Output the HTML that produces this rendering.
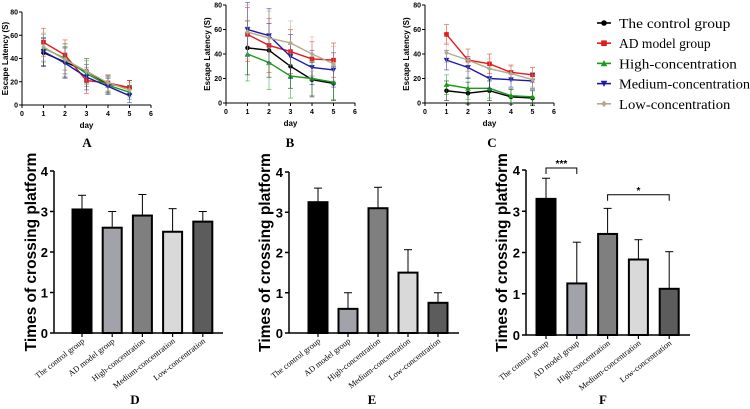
<!DOCTYPE html>
<html><head><meta charset="utf-8"><style>
body{margin:0;background:#fff;}
svg{display:block;font-family:"Liberation Sans",Arial,sans-serif;}
</style></head><body>
<svg id="fig" width="750" height="409" viewBox="0 0 750 409"></svg>
<script>
const days=[1,2,3,4,5];
const groups=["The control group","AD model group","High-concentration","Medium-concentration","Low-concentration"];
const aControl=[45,37,29,18,15], aAD=[54,43,21,19,15], aHigh=[49,40,27,17,11], aMed=[46,36,24,16,8], aLow=[50,39,29,19,13];
const aErr=[12,13,11,7,6];
const bControl=[45,43,30,19,16], bAD=[56,47,42,36,35], bHigh=[40,33,22,20,17], bMed=[60,55,38,29,27], bLow=[58,53,49,40,32];
const bErr=[22,22,18,14,14];
const cControl=[10,8,10,5,4], cAD=[56,35,32,25,23], cHigh=[15,12,12,6,5], cMed=[35,29,20,19,18], cLow=[41,35,28,24,19];
const cErr=[8,9,8,6,6];
const yTicksLine=[0,20,40,60,80], xTicksLine=[0,1,2,3,4,5,6];
const dVals=[3.05,2.6,2.9,2.5,2.75], dErr=[0.35,0.4,0.52,0.57,0.25];
const eVals=[3.25,0.6,3.1,1.5,0.75], eErr=[0.35,0.4,0.52,0.57,0.25];
const fVals=[3.3,1.25,2.45,1.83,1.12], fErr=[0.5,1.0,0.62,0.48,0.9];
const yTicksBar=[0,1,2,3,4];
const colors=["#000","#e8191b","#1a9a1a","#1a1aaa","#b3aa8c"];
const markers=["circle","square","up","down","diamond"];
const barFills=["#000","#a2a2aa","#7f7f7f","#d9d9d9","#5c5c5c"];
const NS="http://www.w3.org/2000/svg";
const svg=document.getElementById('fig');
function el(tag,attrs,parent,text){const e=document.createElementNS(NS,tag);for(const k in attrs)e.setAttribute(k,attrs[k]);if(text!==undefined)e.textContent=text;(parent||svg).appendChild(e);return e;}
function marker(g,type,x,y,c,s){
  let m;
  if(type==="circle")m=el('circle',{cx:x,cy:y,r:s},g);
  else if(type==="square")m=el('rect',{x:x-s,y:y-s,width:2*s,height:2*s},g);
  else if(type==="up")m=el('polygon',{points:`${x},${y-s-0.5} ${x-s-0.5},${y+s} ${x+s+0.5},${y+s}`},g);
  else if(type==="down")m=el('polygon',{points:`${x},${y+s+0.5} ${x-s-0.5},${y-s} ${x+s+0.5},${y-s}`},g);
  else m=el('polygon',{points:`${x},${y-s-0.5} ${x+s},${y} ${x},${y+s+0.5} ${x-s},${y}`},g);
  m.setAttribute('fill',c);
  return m;
}
function linePanel(name,ax,y0,y80,series,err,titleX,label,labelX){
  const g=el('g',{},svg);
  
  
  const sx=d=>ax+d*21.5;
  const sy=v=>y0-(v/80)*(y0-y80);
  el('line',{x1:ax,y1:y80,x2:ax,y2:y0,stroke:'#000','stroke-width':1},g);
  el('line',{x1:ax,y1:y0,x2:sx(6),y2:y0,stroke:'#000','stroke-width':1},g);
  yTicksLine.forEach(t=>{el('line',{x1:ax-3,y1:sy(t),x2:ax,y2:sy(t),stroke:'#000'},g);
    const tl=el('text',{x:ax-4,y:sy(t)+2.5,'font-size':7,'font-weight':'bold','text-anchor':'end'},g,t);
    });
  xTicksLine.forEach(t=>{el('line',{x1:sx(t),y1:y0,x2:sx(t),y2:y0+3,stroke:'#000'},g);
    const tl=el('text',{x:sx(t),y:y0+11,'font-size':7,'font-weight':'bold','text-anchor':'middle'},g,t);
    });
  const xt=el('text',{x:sx(3),y:y0+23,'font-size':8,'font-weight':'bold','text-anchor':'middle'},g,'day');
  
  const ymid=(y0+y80)/2;
  const yt=el('text',{x:titleX,y:ymid,'font-size':8,'font-weight':'bold','text-anchor':'middle',transform:`rotate(-90 ${titleX} ${ymid})`},g,'Escape Latency (S)');
  
  series.forEach((vals,i)=>{
    const sg=el('g',{},g);
    
    
    vals.forEach((v,j)=>{const x=sx(days[j]);const e=err[j];
      el('line',{x1:x,y1:sy(v-e),x2:x,y2:sy(v+e),stroke:colors[i],'stroke-width':0.8,opacity:0.6},sg);
      el('line',{x1:x-2.5,y1:sy(v+e),x2:x+2.5,y2:sy(v+e),stroke:colors[i],'stroke-width':0.8,opacity:0.6},sg);
      el('line',{x1:x-2.5,y1:sy(v-e),x2:x+2.5,y2:sy(v-e),stroke:colors[i],'stroke-width':0.8,opacity:0.6},sg);});
    const pts=vals.map((v,j)=>sx(days[j])+','+sy(v)).join(' ');
    el('polyline',{points:pts,fill:'none',stroke:colors[i],'stroke-width':1.4},sg);
    vals.forEach((v,j)=>{const m=marker(sg,markers[i],sx(days[j]),sy(v),colors[i],2.3);
      });
  });
  const lt=el('text',{x:labelX,y:147,'font-size':13,'font-weight':'bold','font-family':'"Liberation Serif",serif','text-anchor':'middle'},g,label);
  
}
linePanel('panel-a',22,105,12,[aControl,aAD,aHigh,aMed,aLow],aErr,8,'A',87);
linePanel('panel-b',226,103,5,[bControl,bAD,bHigh,bMed,bLow],bErr,210,'B',290);
linePanel('panel-c',425,103,5,[cControl,cAD,cHigh,cMed,cLow],cErr,409,'C',492);

// legend
const lg=el('g',{},svg);


groups.forEach((gname,i)=>{
  const y=23+i*20.2;
  const eg=el('g',{},lg);
  
  
  el('line',{x1:597,y1:y,x2:611,y2:y,stroke:colors[i],'stroke-width':1.6},eg);
  marker(eg,markers[i],604,y,colors[i],2.8);
  el('text',{x:619,y:y+5,'font-size':14,'font-family':'"Liberation Serif",serif',textLength:gname.length*6.55,lengthAdjust:'spacingAndGlyphs'},eg,gname);
});

function barPanel(name,ax,y0,y4,x0,step,vals,err,titleX,label,labelX,axEnd){
  const g=el('g',{},svg);
  
  
  const sy=v=>y0-(v/4)*(y0-y4);
  const bx=i=>x0+i*step;
  el('line',{x1:ax,y1:y4,x2:ax,y2:y0,stroke:'#000','stroke-width':1.5},g);
  el('line',{x1:ax,y1:y0,x2:axEnd,y2:y0,stroke:'#000','stroke-width':1.5},g);
  yTicksBar.forEach(t=>{el('line',{x1:ax-4,y1:sy(t),x2:ax,y2:sy(t),stroke:'#000','stroke-width':1.5},g);
    const tl=el('text',{x:ax-6,y:sy(t)+5,'font-size':13,'font-weight':'bold','text-anchor':'end'},g,t);
    });
  const ymid=(y0+y4)/2;
  const yt=el('text',{x:titleX,y:ymid,'font-size':15.5,'font-weight':'bold','text-anchor':'middle',transform:`rotate(-90 ${titleX} ${ymid})`},g,'Times of crossing platform');
  
  vals.forEach((v,i)=>{
    const x=bx(i);
    el('line',{x1:x,y1:sy(v),x2:x,y2:sy(v+err[i]),stroke:'#000','stroke-width':1},g);
    el('line',{x1:x-4,y1:sy(v+err[i]),x2:x+4,y2:sy(v+err[i]),stroke:'#000','stroke-width':1},g);
    const r=el('rect',{x:x-9.5,y:sy(v),width:19,height:y0-sy(v),fill:barFills[i],stroke:'#000','stroke-width':2},g);
    
    
    el('line',{x1:x,y1:y0,x2:x,y2:y0+4,stroke:'#000','stroke-width':1.2},g);
    const cl=el('text',{x:x+3,y:y0+9,'font-size':8.3,'font-family':'"Liberation Serif",serif','text-anchor':'end',transform:`rotate(-38 ${x+3} ${y0+9})`},g,groups[i]);
    
  });
  const lt=el('text',{x:labelX,y:404,'font-size':13,'font-weight':'bold','font-family':'"Liberation Serif",serif','text-anchor':'middle'},g,label);
  
  return {g,sy,bx};
}
barPanel('panel-d',54,333,171,82,30.2,dVals,dErr,36,'D',135,223);
barPanel('panel-e',289,333,172,318,30,eVals,eErr,270,'E',372,459);
const pf=barPanel('panel-f',526,335,170,546,30.8,fVals,fErr,507,'F',603,690);
// significance brackets
function bracket(i1,i2,v,txt){
  const y=pf.sy(v);const x1=pf.bx(i1),x2=pf.bx(i2);
  const b=el('path',{d:`M${x1},${y+6} V${y} H${x2} V${y+6}`,fill:'none',stroke:'#000','stroke-width':1},pf.g);
  
  const t=el('text',{x:(x1+x2)/2,y:y-1,'font-size':10,'font-weight':'bold','text-anchor':'middle'},pf.g,txt);
  
}
bracket(0,1,4.05,'***');
bracket(2,4,3.4,'*');
</script>
</body></html>
